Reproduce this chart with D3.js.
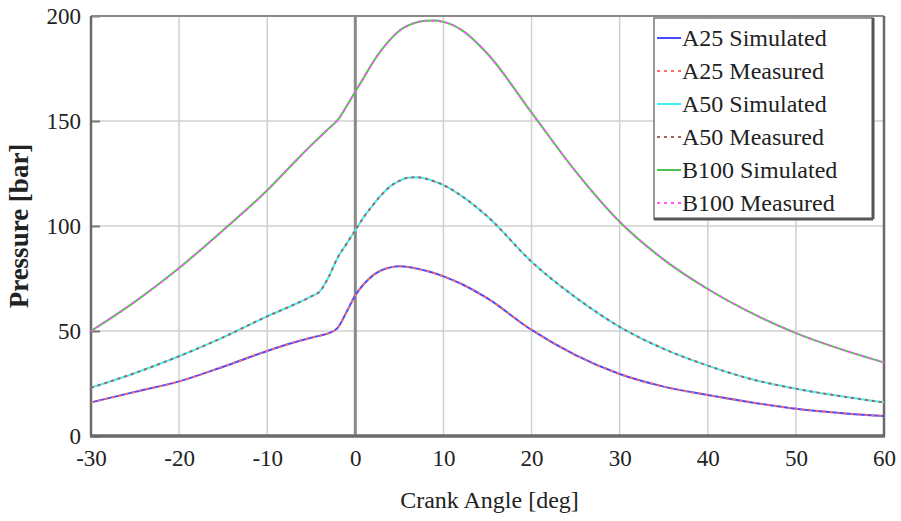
<!DOCTYPE html>
<html>
<head>
<meta charset="utf-8">
<script src="https://cdn.jsdelivr.net/npm/d3@7"></script>
<style>
  body { margin:0; background:#fff; }
  svg text { font-family: "Liberation Serif", "DejaVu Serif", serif; fill:#222; }
</style>
</head>
<body>
<div id="chart"></div>
<script>
// crank angle samples (deg)
const theta = [-30,-25,-20,-15,-10,-7,-5,-4,-3,-2,-1,0,1,2,3,4,5,6,7,8,9,10,12,15,20,25,30,35,40,45,50,55,60];

const a25Sim  = [16,21,26,33,40.5,44.5,46.8,47.8,49,51.5,59,67,72.5,76.5,79,80.3,80.8,80.5,79.7,78.7,77.5,76,72.5,65.5,50.5,38.5,29.5,23.5,19.5,16,13,11,9.5];
const a25Meas = [16,21,26,33,40.5,44.5,46.8,47.8,49,51.5,59,67,72.5,76.5,79,80.3,80.8,80.5,79.7,78.7,77.5,76,72.5,65.5,50.5,38.5,29.5,23.5,19.5,16,13,11,9.5];
const a50Sim  = [23,30,38,47,57,62.5,66.5,69,76,85,91.5,98,104.5,110,115,119,121.5,123,123.2,122.5,121.2,119.5,114.5,104.5,83,66,52,41.5,33.5,27,22.5,19,16];
const a50Meas = [23,30,38,47,57,62.5,66.5,69,76,85,91.5,98,104.5,110,115,119,121.5,123,123.2,122.5,121.2,119.5,114.5,104.5,83,66,52,41.5,33.5,27,22.5,19,16];
const b100Sim = [50,64,80,98,117,130,138.5,142.5,146.5,150.5,157,164,171,178,184,189,193,195.5,197,197.7,197.8,197.2,193.5,182,154,126,102,84,70,58.5,49,41.5,35];
const b100Meas= [50,64,80,98,117,130,138.5,142.5,146.5,150.5,157,164,171,178,184,189,193,195.5,197,197.7,197.8,197.2,193.5,182,154,126,102,84,70,58.5,49,41.5,35];

const xTicks = [-30,-20,-10,0,10,20,30,40,50,60];
const yTicks = [0,50,100,150,200];

const series = [
  { name:"A25 Simulated",  vals:a25Sim,  color:"#4a4aff", dash:null },
  { name:"A25 Measured",   vals:a25Meas, color:"#ff6a6a", dash:"3,4" },
  { name:"A50 Simulated",  vals:a50Sim,  color:"#45f0f0", dash:null },
  { name:"A50 Measured",   vals:a50Meas, color:"#a86060", dash:"3,4" },
  { name:"B100 Simulated", vals:b100Sim, color:"#4ec44e", dash:null },
  { name:"B100 Measured",  vals:b100Meas,color:"#ff55ff", dash:"3,4" }
];

const W = 901, H = 521;
const m = { top:16, right:17, bottom:85, left:91 };
const iw = W - m.left - m.right, ih = H - m.top - m.bottom;
const FONT = "Liberation Serif, DejaVu Serif, serif";

const svg = d3.select("#chart").append("svg").attr("width", W).attr("height", H);
const g = svg.append("g").attr("transform", `translate(${m.left},${m.top})`);

const x = d3.scaleLinear().domain([-30,60]).range([0, iw]);
const y = d3.scaleLinear().domain([0,200]).range([ih, 0]);

// grid
g.selectAll(".vg").data(xTicks).enter().append("line")
  .attr("x1", d=>x(d)).attr("x2", d=>x(d)).attr("y1",0).attr("y2",ih)
  .attr("stroke","#d0d0d0").attr("stroke-width",1.5);
g.selectAll(".hg").data(yTicks).enter().append("line")
  .attr("x1",0).attr("x2",iw).attr("y1", d=>y(d)).attr("y2", d=>y(d))
  .attr("stroke","#d0d0d0").attr("stroke-width",1.5);

// zero crank angle marker
g.append("line").attr("x1",x(0)).attr("x2",x(0)).attr("y1",0).attr("y2",ih)
  .attr("stroke","#8a8a8a").attr("stroke-width",3);

// axes (labels only, frame drawn by hand)
const gx = g.append("g").attr("transform",`translate(0,${ih})`)
  .call(d3.axisBottom(x).tickValues(xTicks).tickSize(0).tickPadding(14).tickFormat(d => String(d)));
const gy = g.append("g")
  .call(d3.axisLeft(y).tickValues(yTicks).tickSize(-9).tickPadding(10).tickFormat(d => String(d)));
[gx, gy].forEach(a => {
  a.select(".domain").remove();
  a.attr("font-family", FONT).attr("font-size", 23);
  a.selectAll("text").attr("fill","#1a1a1a");
});
gy.selectAll(".tick line").attr("stroke","#777").attr("stroke-width",2);

// frame
g.append("line").attr("x1",0).attr("x2",iw).attr("y1",0).attr("y2",0).attr("stroke","#8a8a8a").attr("stroke-width",2);
g.append("line").attr("x1",iw).attr("x2",iw).attr("y1",0).attr("y2",ih).attr("stroke","#6a6a6a").attr("stroke-width",2.5);
g.append("line").attr("x1",0).attr("x2",0).attr("y1",0).attr("y2",ih).attr("stroke","#6a6a6a").attr("stroke-width",2.5);
g.append("line").attr("x1",-1).attr("x2",iw+1).attr("y1",ih).attr("y2",ih).attr("stroke","#6a6a6a").attr("stroke-width",3.5);

// curves
const line = d3.line().x((d,i)=>x(theta[i])).y(d=>y(d)).curve(d3.curveMonotoneX);
series.forEach(s => {
  g.append("path").datum(s.vals)
    .attr("fill","none").attr("stroke",s.color).attr("stroke-width",2)
    .attr("stroke-dasharray", s.dash).attr("d", line);
});

// axis titles
svg.append("text").attr("x", m.left + iw/2 + 2).attr("y", 508)
  .attr("text-anchor","middle").attr("font-family",FONT).attr("font-size",24).text("Crank Angle [deg]");
svg.append("text").attr("transform",`translate(28,${m.top + ih/2}) rotate(-90)`)
  .attr("text-anchor","middle").attr("font-family",FONT).attr("font-size",27).attr("font-weight","bold").text("Pressure [bar]");

// legend
const lg = svg.append("g").attr("transform","translate(654,18)");
lg.append("rect").attr("x",0).attr("y",0).attr("width",219).attr("height",201)
  .attr("fill","#fff").attr("stroke","#777").attr("stroke-width",1.5);
lg.append("line").attr("x1",219).attr("x2",219).attr("y1",0).attr("y2",201).attr("stroke","#555").attr("stroke-width",3);
lg.append("line").attr("x1",0).attr("x2",219).attr("y1",201).attr("y2",201).attr("stroke","#555").attr("stroke-width",3);
const rows = lg.selectAll(".row").data(series).enter().append("g")
  .attr("transform",(d,i)=>`translate(0,${20 + i*33})`);
rows.append("line").attr("x1",3).attr("x2",27).attr("y1",0).attr("y2",0)
  .attr("stroke",d=>d.color).attr("stroke-width",2).attr("stroke-dasharray",d=>d.dash);
rows.append("text").attr("x",28).attr("y",0).attr("dy","0.35em")
  .attr("font-family",FONT).attr("font-size",24).attr("fill","#1a1a1a").text(d=>d.name);
</script>
</body>
</html>
